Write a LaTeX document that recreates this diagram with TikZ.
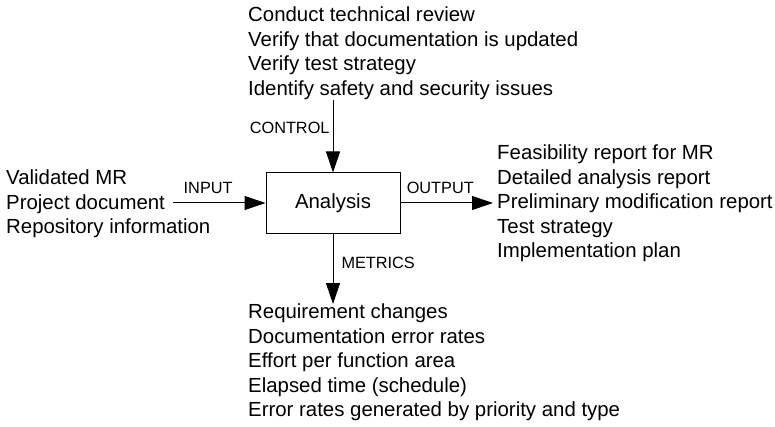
\documentclass[tikz,border=0pt]{standalone}
\usepackage{fontspec}
\setmainfont{Liberation Sans}
\usetikzlibrary{arrows.meta}

\tikzset{
  arrowline/.style={line width=1pt, -{Triangle[length=21pt,width=14pt]}},
  textblock/.style={inner xsep=4pt, inner ysep=0pt, align=left, anchor=north west,
    font=\fontsize{20.4}{24.5}\selectfont},
  tag/.style={inner sep=0pt, font=\fontsize{16.3}{18}\selectfont},
}

\begin{document}
\begin{tikzpicture}[x=1pt,y=1pt]
    \useasboundingbox (0,0) rectangle (775,426);

    % process box
    \node[draw, line width=1pt, minimum width=134pt, minimum height=60pt, inner sep=0pt,
      font=\fontsize{20.4}{24.5}\selectfont] (analysis) at (333,223) {Analysis};

    % control (top)
    \node[textblock] (controls) at (244,419) {Conduct technical review\\
      Verify that documentation is updated\\Verify test strategy\\
      Identify safety and security issues};

    % input (left)
    \node[textblock] (inputs) at (2,256) {Validated MR\\Project document\\Repository information};
    \coordinate (inputtail) at (173,223);

    % output (right)
    \node[textblock] (outputs) at (493,281) {Feasibility report for MR\\
      Detailed analysis report\\Preliminary modification report\\
      Test strategy\\Implementation plan};

    % metrics (bottom)
    \node[textblock] (metrics) at (244,122) {Requirement changes\\
      Documentation error rates\\Effort per function area\\
      Elapsed time (schedule)\\Error rates generated by priority and type};

    % arrows
    \draw[arrowline] (inputtail) -- (analysis.west)
      node[tag, pos=.38, above=9pt] {INPUT};
    \draw[arrowline] (analysis.north |- controls.south) -- (analysis.north)
      node[tag, pos=.38, left=3pt] {CONTROL};
    \draw[arrowline] (analysis.east) -- (analysis.east -| outputs.west)
      node[tag, pos=.43, above=9pt] {OUTPUT};
    \draw[arrowline] (analysis.south) -- (analysis.south |- metrics.north)
      node[tag, pos=.42, right=8pt] {METRICS};

\end{tikzpicture}
\end{document}
